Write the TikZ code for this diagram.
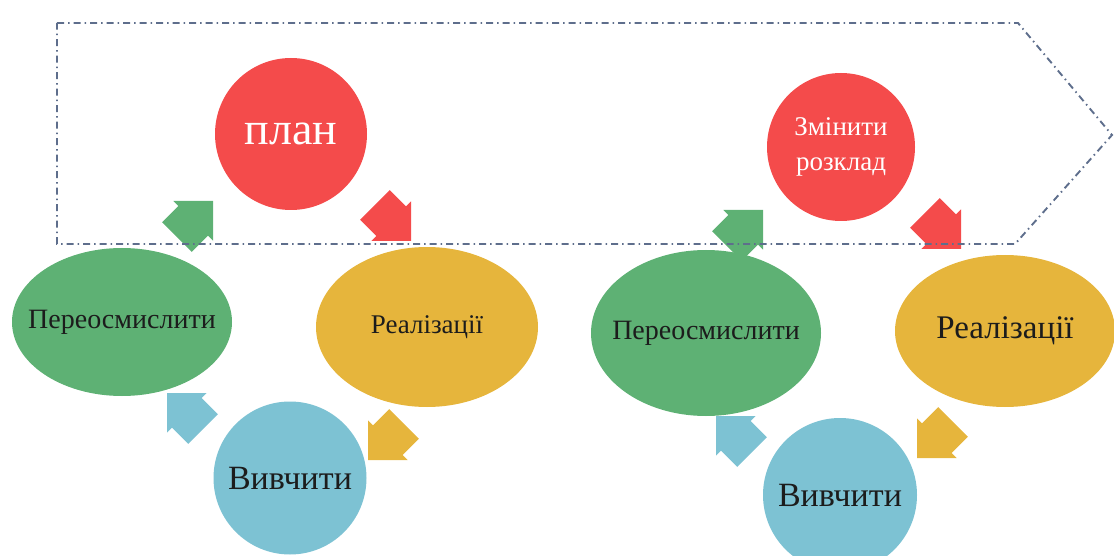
\documentclass[tikz,border=0pt]{standalone}
\usepackage{fontspec}
\setmainfont{Liberation Serif}
\usetikzlibrary{shapes.geometric}

\definecolor{cred}{HTML}{F44B4B}
\definecolor{cgreen}{HTML}{5EB174}
\definecolor{cgold}{HTML}{E6B53C}
\definecolor{cblue}{HTML}{7DC2D3}
\definecolor{cline}{HTML}{5E6E8C}
\definecolor{ink}{HTML}{1C1C1C}

% block arrow with a right-angled head; tip at #2, turned by #3 degrees
\newcommand\cyclearrow[3]{%
  \fill[#1, shift={(#2)}, rotate=#3]
    (0,0) -- (-28,28) -- (-28,21) -- (-51,21) -- (-51,-21) -- (-28,-21) -- (-28,-28) -- cycle;}

% text that does not widen the shape around it
\newcommand\zerowidth[1]{\makebox[0pt]{#1}}

\begin{document}
\begin{tikzpicture}[x=1pt,y=-1pt,
  disc/.style={circle, inner sep=0pt, minimum size=#1},
  oval/.style 2 args={ellipse, inner sep=0pt, minimum width=#1, minimum height=#2},
  label/.style={text=ink, font=\fontsize{#1}{#1}\selectfont},
  frame/.style={draw=cline, line width=1.9pt, line join=miter,
                dash pattern=on 7pt off 4pt on 1.5pt off 4pt}]
\useasboundingbox (0,0) rectangle (1114,556);
\clip (0,0) rectangle (1114,556);

% first cycle
\node[disc=152pt, fill=cred, text=white, font=\fontsize{46}{50}\selectfont] (plan) at (291,134) {план};
\node[oval={222pt}{160pt}, fill=cgold, label=27] (real1) at (427,327) {\zerowidth{Реалізації}};
\node[disc=153pt, fill=cblue, label=34] (study1) at (290,478) {\zerowidth{Вивчити}};
\node[oval={220pt}{148pt}, fill=cgreen, label=28] (rethink1) at (122,322) {\zerowidth{Переосмислити}};

% second cycle
\node[disc=148pt, fill=cred, text=white, align=center, font=\fontsize{27}{35}\selectfont] (change) at (841,147) {Змінити\\розклад};
\node[oval={220pt}{152pt}, fill=cgold, label=33] (real2) at (1005,331) {\zerowidth{Реалізації}};
\node[disc=154pt, fill=cblue, label=34] (study2) at (840,495) {\zerowidth{Вивчити}};
\node[oval={230pt}{166pt}, fill=cgreen, label=28] (rethink2) at (706,333) {\zerowidth{Переосмислити}};

% arrow tips between the stages
\coordinate (g1) at (213,201);
\coordinate (r1) at (411,241);
\coordinate (y1) at (368,460);
\coordinate (b1) at (167,393);
\coordinate (g2) at (763,210);
\coordinate (r2) at (961,249);
\coordinate (y2) at (917,458);
\coordinate (b2) at (716,416);

\cyclearrow{cgreen}{g1}{45}
\cyclearrow{cred}{r1}{-45}
\cyclearrow{cgold}{y1}{-135}
\cyclearrow{cblue}{b1}{135}
\cyclearrow{cgreen}{g2}{45}
\cyclearrow{cred}{r2}{-45}
\cyclearrow{cgold}{y2}{-135}
\cyclearrow{cblue}{b2}{135}

% pentagon-shaped frame around the planning stages
\coordinate (f1) at (57,23);
\coordinate (f2) at (1018,23);
\coordinate (f3) at (1112,135);
\coordinate (f4) at (1015,244);
\coordinate (f5) at (57,244);
\draw[frame] (f1) -- (f2) -- (f3) -- (f4) -- (f5) -- cycle;
\end{tikzpicture}
\end{document}
